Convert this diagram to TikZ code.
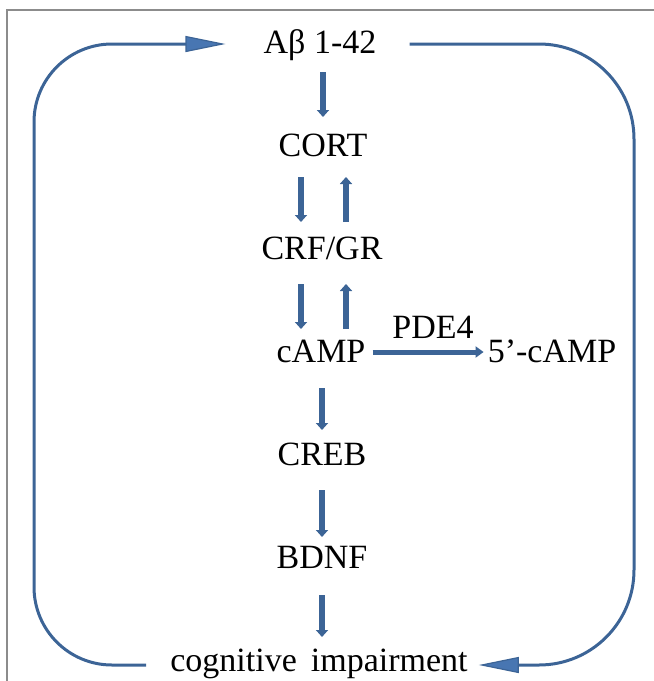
\documentclass[tikz,border=0pt]{standalone}
\usepackage{fontspec}
\setmainfont{Liberation Serif}
\usetikzlibrary{arrows.meta}
\definecolor{flow}{RGB}{60,100,150}
\definecolor{headfill}{RGB}{72,118,178}
\definecolor{framegray}{RGB}{140,140,140}

\begin{document}
\begin{tikzpicture}[x=1pt,y=-1pt,
  lbl/.style={anchor=base,inner sep=0pt,font=\fontsize{34}{40}\selectfont},
  steparrow/.style={draw=flow,line width=6pt,-{Triangle[length=7pt,width=12pt]}},
  sidearrow/.style={draw=flow,line width=5pt,-{Triangle[length=8pt,width=11pt]}},
  loopline/.style={draw=flow,line width=3pt},
  bighead/.style={-{Triangle[length=40pt,width=16pt,line width=1.2pt,fill=headfill]}}
]
\useasboundingbox (0,0) rectangle (654,681);

% outer frame
\draw[framegray,line width=1.5pt] (7,681) -- (7,10) -- (654,10);

% pathway labels
\node[lbl] (ab)    at (320,53)  {Aβ 1-42};
\node[lbl] (cort)  at (323,156) {CORT};
\node[lbl] (crf)   at (322,259) {CRF/GR};
\node[lbl] (camp)  at (321,362) {cAMP};
\node[lbl] (pde)   at (433,338) {PDE4};
\node[lbl] (fcamp) at (552,362) {5’-cAMP};
\node[lbl] (creb)  at (322,465) {CREB};
\node[lbl] (bdnf)  at (322,568) {BDNF};
\node[lbl] (cog)   at (319,671) {cognitive\hspace{14pt}impairment};

% vertical cascade
\draw[steparrow] ([xshift=3pt,yshift=-19pt]ab.base) -- ([yshift=39pt]cort.base);
\draw[steparrow] ([xshift=-22pt,yshift=-21pt]cort.base) -- ([xshift=-21pt,yshift=37pt]crf.base);
\draw[steparrow] ([xshift=24pt,yshift=37pt]crf.base) -- ([xshift=23pt,yshift=-21pt]cort.base);
\draw[steparrow] ([xshift=-21pt,yshift=-25pt]crf.base) -- ([xshift=-20pt,yshift=33pt]camp.base);
\draw[steparrow] ([xshift=25pt,yshift=33pt]camp.base) -- ([xshift=24pt,yshift=-25pt]crf.base);
\draw[steparrow] ([xshift=1pt,yshift=-26pt]camp.base) -- ([yshift=35pt]creb.base);
\draw[steparrow] ([yshift=-25pt]creb.base) -- ([yshift=31pt]bdnf.base);
\draw[steparrow] ([yshift=-27pt]bdnf.base) -- ([xshift=3pt,yshift=34pt]cog.base);

% degradation by PDE4
\draw[sidearrow] ([xshift=7pt,yshift=10pt]camp.base east) -- ([xshift=-4pt,yshift=10pt]fcamp.base west);

% feedback loop
\coordinate (abL)  at ([xshift=-38pt,yshift=9pt]ab.base west);
\coordinate (abR)  at ([xshift=33pt,yshift=9pt]ab.base east);
\coordinate (cogL) at ([xshift=-24pt,yshift=6pt]cog.base west);
\coordinate (cogR) at ([xshift=11pt,yshift=6pt]cog.base east);
\coordinate (lft)  at (34,0);
\coordinate (rgt)  at (634,0);

\draw[loopline,bighead,rounded corners=78pt]
  (cogL) -- (cogL -| lft) -- (abL -| lft) -- (abL);
\draw[loopline,bighead,rounded corners=95pt]
  (abR) -- (abR -| rgt) -- (cogR -| rgt) -- (cogR);
\end{tikzpicture}
\end{document}
